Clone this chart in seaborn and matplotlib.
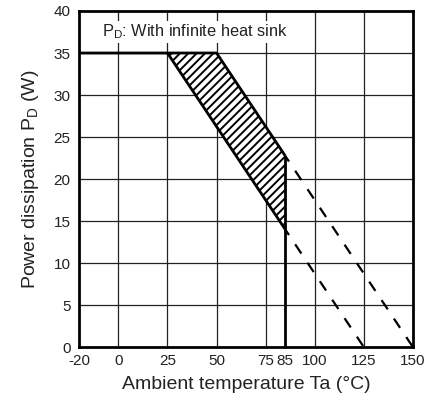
import matplotlib
matplotlib.use("Agg")
import matplotlib.pyplot as plt
import seaborn as sns

# derating curve (infinite heat sink)
upper_x = [-20, 50, 85]
upper_y = [35, 35, 22.75]
lower_x = [25, 85]
lower_y = [35, 14]
# extrapolated beyond Ta = 85
dash_up_x = [85, 150]
dash_up_y = [22.75, 0]
dash_lo_x = [85, 125]
dash_lo_y = [14, 0]
# vertical cut-off at 85
cut_x = [85, 85]
cut_y = [22.75, 0]
# hatched band between the two slopes
band_x = [25, 50, 85, 85]
band_y = [35, 35, 22.75, 14]

xticks = [-20, 0, 25, 50, 75, 85, 100, 125, 150]
grid_x = [0, 25, 50, 75, 100, 125]
yticks = [0, 5, 10, 15, 20, 25, 30, 35, 40]

sns.set_style("white")
plt.rcParams['font.family'] = ['Liberation Sans', 'DejaVu Sans']
plt.rcParams['mathtext.fontset'] = 'custom'
plt.rcParams['mathtext.rm'] = 'Liberation Sans'
plt.rcParams['hatch.linewidth'] = 1.4

fig = plt.figure(figsize=(4.32, 4.07), dpi=100)
ax = fig.add_axes([0.183, 0.147, 0.773, 0.826])

# grid
for gx in grid_x:
    ax.axvline(gx, color="#222222", lw=0.9, zorder=1)
for gy in yticks[1:-1]:
    ax.axhline(gy, color="#222222", lw=0.9, zorder=1)

ax.fill(band_x, band_y, facecolor="white", edgecolor="black", hatch="////",
        lw=0, zorder=2)

line_kw = dict(ax=ax, color="black", sort=False, estimator=None, zorder=3,
               solid_joinstyle="round", solid_capstyle="butt")
sns.lineplot(x=upper_x, y=upper_y, lw=2, **line_kw)
sns.lineplot(x=lower_x, y=lower_y, lw=2, **line_kw)
sns.lineplot(x=cut_x, y=cut_y, lw=2, **line_kw)
sns.lineplot(x=dash_up_x, y=dash_up_y, lw=1.6, linestyle=(2, (5, 5)), **line_kw)
sns.lineplot(x=dash_lo_x, y=dash_lo_y, lw=1.6, linestyle=(2, (5, 5)), **line_kw)

ax.text(-8.5, 37.5, r"P$_{\rm D}$: With infinite heat sink", fontsize=11.8,
        va="center", ha="left", color="#222222", zorder=4,
        bbox=dict(facecolor="white", edgecolor="none", pad=1.5))

ax.set_xlim(-20, 150)
ax.set_ylim(0, 40)
ax.set_xticks(xticks)
ax.set_xticklabels([str(t) for t in xticks])
ax.set_yticks(yticks)
ax.tick_params(axis="x", length=0, labelsize=11, colors="#222222", pad=5)
ax.tick_params(axis="y", length=0, labelsize=11, colors="#222222", pad=6)
ax.set_xlabel("Ambient temperature Ta (°C)", fontsize=14, color="#222222", labelpad=6)
ax.set_ylabel(r"Power dissipation P$_{\rm D}$ (W)", fontsize=14, color="#222222", labelpad=9)

for s in ax.spines.values():
    s.set_visible(True)
    s.set_linewidth(2)
    s.set_color("black")
    s.set_zorder(5)

fig.savefig("out.png", dpi=100)
